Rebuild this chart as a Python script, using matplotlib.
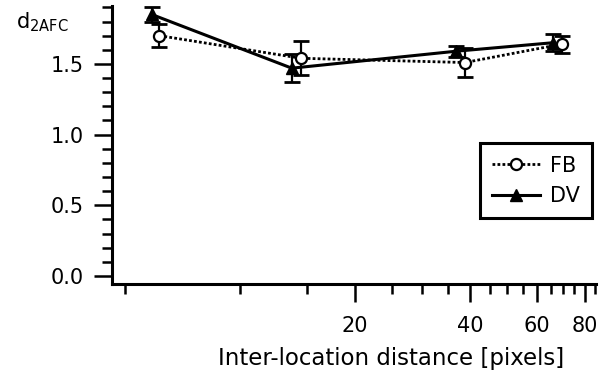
import matplotlib
matplotlib.use('Agg')
import matplotlib.pyplot as plt
from matplotlib.ticker import FixedLocator, NullFormatter, FixedFormatter

plt.rcParams['font.family'] = ['DejaVu Sans']
plt.rcParams['mathtext.default'] = 'regular'

# Inter-location distance [pixels] for each condition
fb_x = [6.15, 14.45, 38.8, 69.5]
dv_x = [5.87, 13.66, 36.8, 65.9]

# d' (2AFC) and error bars
fb_y = [1.70, 1.54, 1.51, 1.64]
fb_err = [0.08, 0.12, 0.10, 0.06]
dv_y = [1.85, 1.47, 1.59, 1.65]
dv_err = [0.05, 0.10, 0.04, 0.06]

x_major = [20, 40, 60, 80]
x_minor = [5, 10, 15, 25, 30, 35, 45, 50, 55, 65, 70, 75, 85]

FS = 15


def main():
    fig = plt.figure(figsize=(6.06, 3.74), dpi=100)
    ax = fig.add_axes([0.1848, 0.2406, 0.7987, 0.7434])

    # DV: solid line with filled triangles
    ax.errorbar(dv_x, dv_y, yerr=dv_err, fmt='none', ecolor='black',
                elinewidth=1.6, capsize=6, capthick=2, zorder=2)
    ax.plot(dv_x, dv_y, color='black', linewidth=2.2, marker='^',
            markersize=9, markerfacecolor='black', label='DV', zorder=3)

    # FB: dotted line with open circles
    ax.errorbar(fb_x, fb_y, yerr=fb_err, fmt='none', ecolor='black',
                elinewidth=1.6, capsize=6, capthick=2, zorder=4)
    ax.plot(fb_x, fb_y, color='black', linewidth=2, linestyle=(0, (1, 0.8)),
            marker='o', markersize=8, markerfacecolor='white',
            markeredgewidth=1.6, label='FB', zorder=5)

    ax.set_xscale('log')
    ax.set_xlim(4.62, 85.5)
    ax.set_ylim(-0.057, 1.91)

    ax.xaxis.set_major_locator(FixedLocator(x_major))
    ax.xaxis.set_major_formatter(FixedFormatter([str(v) for v in x_major]))
    ax.xaxis.set_minor_locator(FixedLocator(x_minor))
    ax.xaxis.set_minor_formatter(NullFormatter())

    ax.set_yticks([0.0, 0.5, 1.0, 1.5])
    ax.set_yticklabels(['0.0', '0.5', '1.0', '1.5'])
    ax.yaxis.set_minor_locator(FixedLocator([i / 10 for i in range(0, 20)]))

    ax.tick_params(which='major', length=13, width=1.8, labelsize=FS)
    ax.tick_params(axis='x', which='major', pad=10)
    ax.tick_params(axis='y', which='major', pad=7)
    ax.tick_params(which='minor', length=7, width=1.8)

    for side in ['top', 'right']:
        ax.spines[side].set_visible(False)
    for side in ['left', 'bottom']:
        ax.spines[side].set_linewidth(2.2)

    ax.set_xlabel('Inter-location distance [pixels]', fontsize=16.5)
    ax.xaxis.set_label_coords(0.576, -0.228)

    fig.text(16 / 606, 1 - 28.3 / 374, r'd$_{2AFC}$', fontsize=FS,
             va='baseline')

    handles, labels = ax.get_legend_handles_labels()
    leg = ax.legend(handles[::-1], labels[::-1], loc='upper right',
                    bbox_to_anchor=(0.992, 0.507), borderaxespad=0,
                    fancybox=False, edgecolor='black', framealpha=1,
                    fontsize=FS, handlelength=2.3, handletextpad=0.45,
                    borderpad=0.6, labelspacing=0.5)
    leg.get_frame().set_linewidth(2.2)

    fig.savefig('out.png', dpi=100, facecolor='white')


if __name__ == '__main__':
    main()
